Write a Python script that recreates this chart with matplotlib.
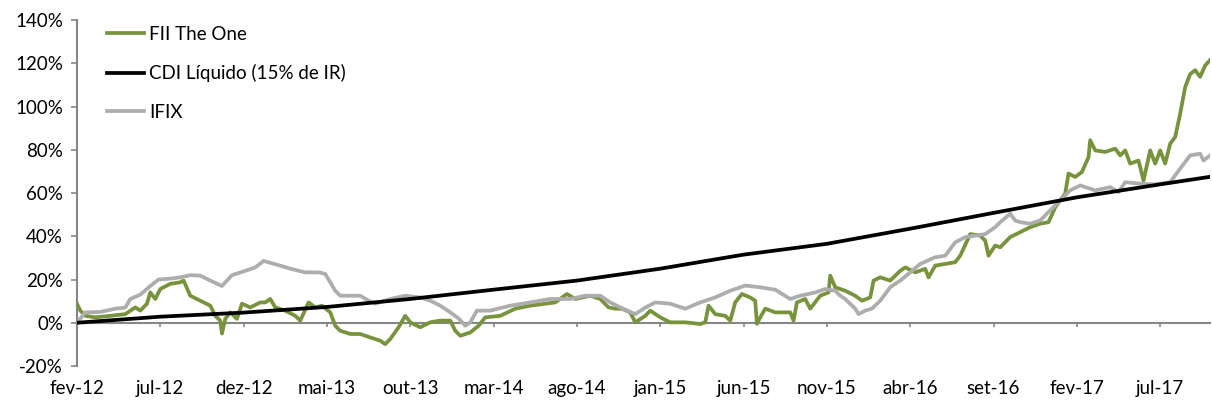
import numpy as np
import matplotlib
matplotlib.use("Agg")
import matplotlib.pyplot as plt
from matplotlib.ticker import FuncFormatter

plt.rcParams['font.family'] = ['Lato', 'DejaVu Sans']

# eixo x: meses desde fev-12
tick_labels = ["fev-12", "jul-12", "dez-12", "mai-13", "out-13", "mar-14", "ago-14",
               "jan-15", "jun-15", "nov-15", "abr-16", "set-16", "fev-17", "jul-17"]

# FII The One
one_m = [0, 0.2, 0.5, 1.1, 2.0, 2.9, 3.5, 3.8, 4.2, 4.4, 4.7, 5.0, 5.6, 6.2, 6.4, 6.8,
         7.4, 8.0, 8.3, 8.6, 8.7, 8.9, 9.2, 9.6, 9.9, 10.4, 11.0, 11.3, 11.6, 11.9, 12.5,
         13.1, 13.4, 13.9, 14.3, 14.7, 15.2, 15.5, 15.8, 16.4, 17.0, 17.6, 18.2, 18.5,
         18.8, 19.3, 19.7, 20.0, 20.6, 21.2, 21.8, 22.4, 22.7, 23.0, 23.6, 24.1, 24.5,
         25.4, 26.3, 27.2, 28.1, 28.7, 29.4, 29.9, 30.8, 31.4, 31.9, 32.3, 32.7, 33.2,
         33.5, 34.1, 34.4, 35.0, 35.6, 36.5, 37.4, 37.7, 37.9, 38.3, 38.9, 39.2, 39.5,
         39.9, 40.4, 40.7, 40.8, 41.0, 41.3, 41.9, 42.8, 43.0, 43.2, 43.7, 44.0, 44.6,
         45.1, 45.2, 45.5, 46.1, 46.7, 47.1, 47.6, 47.8, 48.2, 48.8, 49.4, 49.7, 50.3,
         50.9, 51.1, 51.5, 52.1, 52.7, 53.0, 53.6, 54.2, 54.5, 54.7, 55.1, 55.4, 56.0,
         56.6, 57.2, 57.8, 58.3, 58.7, 59.0, 59.3, 59.5, 59.9, 60.3, 60.7, 60.8, 61.1,
         61.7, 62.3, 62.6, 62.9, 63.2, 63.7, 64.0, 64.4, 64.7, 65.0, 65.3, 65.6, 65.9,
         66.2, 66.5, 66.8, 67.1, 67.4, 67.7, 68.0]
one_v = [8.8, 5.6, 3.2, 2.5, 3.2, 4.0, 7.1, 5.6, 8.8, 14.0, 11.0, 15.6, 18.0, 18.7, 19.5,
         12.5, 10.2, 7.9, 3.2, 1.0, -5.0, 1.8, 4.8, 1.8, 8.8, 7.1, 9.4, 9.4, 11.0, 7.1,
         5.6, 3.2, 1.0, 9.4, 7.1, 7.9, 4.8, -1.4, -3.7, -5.2, -5.2, -6.8, -8.3, -9.9,
         -7.5, -2.1, 3.2, 0.2, -2.1, 0.2, 1.0, 1.0, -3.7, -6.0, -4.5, -1.4, 2.5,
         3.2, 6.5, 7.9, 8.8, 9.4, 13.3, 11.0, 12.5, 11.0, 7.1, 6.5, 6.5, 4.8,
         0.2, 3.2, 5.6, 2.5, 0.2, 0.2, -0.6, 0.2, 7.9, 4.0, 3.2, 1.0, 9.4,
         13.3, 11.7, 10.2, -0.5, 2.5, 6.5, 4.8, 4.8, 1.0, 9.4, 11.0, 6.5, 12.5,
         14.0, 21.8, 16.4, 14.8, 12.5, 10.2, 11.7, 19.5, 21.0, 19.5, 24.0, 25.6, 23.3,
         24.9, 21.0, 26.4, 27.2, 28.0, 31.0, 41.0, 40.3, 38.0, 31.0, 35.7, 34.9, 39.6,
         41.9, 44.2, 45.8, 46.5, 53.4, 56.6, 59.7, 69.0, 67.4, 69.7, 76.6, 84.4, 79.7,
         79.0, 80.5, 77.4, 79.7, 73.6, 75.0, 65.8, 79.7, 73.6, 79.7, 73.6, 82.8, 85.9,
         96.7, 109.0, 115.0, 116.8, 113.7, 119.0, 121.5]

# CDI Líquido
cdi_m = [0, 5, 10, 15, 20, 25, 30, 35, 40, 45, 50, 55, 60, 65, 68]
cdi_v = [0, 2.8, 4.7, 7.3, 11.0, 15.3, 19.5, 25.0, 31.5, 36.5, 43.5, 50.8, 58.0, 64.0, 67.5]

# IFIX
ifix_m = [0, 0.5, 1.4, 2.3, 2.9, 3.2, 3.8, 4.4, 4.9, 5.6, 6.2, 6.8, 7.4, 8.0, 8.7, 9.3,
          10.1, 10.7, 11.2, 12.2, 12.8, 13.7, 14.5, 14.9, 15.2, 15.5, 15.8, 16.4, 17.0,
          17.5, 17.9, 18.8, 19.7, 20.6, 21.2, 21.8, 22.4, 22.9, 23.3, 23.6, 24.0, 24.8,
          26.0, 27.2, 28.4, 29.6, 30.5, 31.4, 32.0, 32.6, 33.5, 34.1, 34.7, 35.6, 36.5,
          37.4, 38.3, 39.2, 40.1, 41.0, 41.9, 42.8, 43.4, 44.3, 44.9, 45.5, 45.8, 46.1,
          46.7, 46.9, 47.3, 47.7, 48.2, 48.8, 49.4, 50.0, 50.6, 51.5, 52.1, 52.7, 53.3,
          53.9, 54.5, 55.1, 55.4, 56.0, 56.3, 56.6, 57.2, 57.8, 58.4, 59.0, 59.6, 60.2,
          61.1, 62.0, 62.5, 62.9, 63.8, 64.7, 65.6, 66.2, 66.8, 67.4, 67.6, 68.0]
ifix_v = [0, 4.8, 5.0, 6.5, 7.0, 11.0, 13.0, 17.0, 20.0, 20.4, 21.0, 22.0, 21.8, 19.5,
          17.0, 22.0, 24.0, 25.6, 28.6, 26.4, 25.0, 23.3, 23.3, 22.6, 18.7, 14.8, 12.5,
          12.5, 12.5, 10.2, 8.8, 11.0, 12.5, 11.7, 10.2, 7.9, 4.8, 2.0, -1.4, 0.2, 5.6,
          5.6, 7.9, 9.4, 11.0, 11.0, 12.5, 12.5, 9.4, 7.1, 4.0, 7.0, 9.4, 8.8, 6.5,
          9.4, 11.7, 14.8, 17.2, 16.4, 15.3, 11.0, 12.5, 14.0, 15.6, 14.8, 12.5, 11.0,
          6.5, 4.0, 5.6, 6.5, 10.2, 16.4, 19.5, 23.3, 27.2, 30.3, 31.0, 37.2, 39.6,
          40.3, 41.0, 44.2, 46.5, 50.4, 47.3, 46.5, 45.8, 47.3, 52.0, 56.6, 61.2, 63.5,
          61.2, 62.7, 60.4, 65.0, 64.3, 64.0, 65.0, 71.3, 77.4, 78.2, 75.0, 77.4]

fig = plt.figure(figsize=(12.12, 4.05), dpi=100)
ax = fig.add_axes([0.0635, 0.0963, 0.935, 0.8543])

lw = 2.7
ax.plot(one_m, one_v, color="#77933C", lw=lw, label="FII The One", zorder=3)
ax.plot(cdi_m, cdi_v, color="black", lw=lw, label="CDI Líquido (15% de IR)", zorder=4)
ax.plot(ifix_m, ifix_v, color="#ADADAD", lw=lw, label="IFIX", zorder=3)

ax.set_xlim(0, 68)
ax.set_ylim(-20, 140)
ax.set_yticks(np.arange(-20, 141, 20))
ax.yaxis.set_major_formatter(FuncFormatter(lambda v, p: f"{v:.0f}%"))
ax.set_xticks(np.arange(0, 66, 5))
ax.set_xticklabels(tick_labels)

for s in ["top", "right"]:
    ax.spines[s].set_visible(False)
ax.spines["left"].set_color("#868686")
ax.spines["bottom"].set_color("#868686")
ax.spines["bottom"].set_position(("data", 0))
ax.spines["left"].set_linewidth(1.5)
ax.spines["bottom"].set_linewidth(1.5)

ax.tick_params(axis="y", length=4, width=1.2, color="#868686", labelsize=13.5, pad=6)
ax.tick_params(axis="x", length=3, width=1.2, color="#868686", labelsize=13.5, pad=38)

ax.legend(loc="upper left", bbox_to_anchor=(0.02, 1.005), frameon=False, fontsize=13.5,
          handlelength=1.95, handletextpad=0.3, labelspacing=1.15, borderaxespad=0)

fig.savefig("out.png", dpi=100)
